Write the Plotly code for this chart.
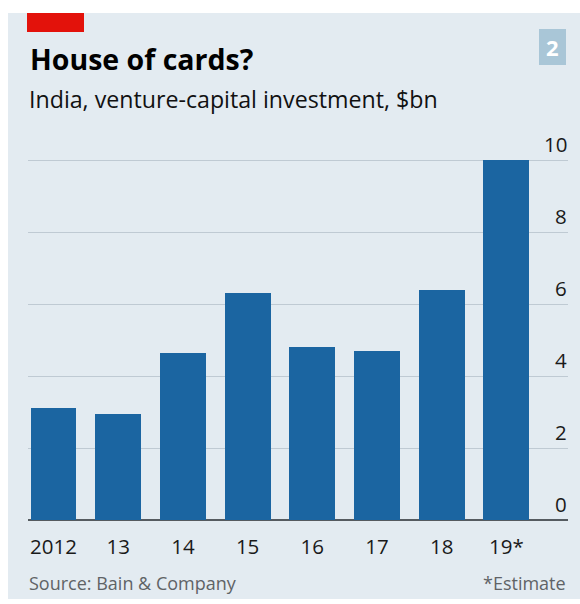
import plotly.graph_objects as go

categories = ["2012", "13", "14", "15", "16", "17", "18", "19*"]
values = [3.1, 2.95, 4.65, 6.3, 4.8, 4.7, 6.4, 10.0]
y_ticks = [0, 2, 4, 6, 8, 10]

W, H = 580, 604
FONT = "Open Sans"
Y_TOP = 10.05

def px_x(x):
    return x / W

def px_y(y):
    return 1 - y / H

x_pos = list(range(len(categories)))

fig = go.Figure()
fig.add_trace(go.Bar(
    x=x_pos, y=values, width=0.71,
    marker=dict(color="#1b65a1", line=dict(width=0)),
    hoverinfo="skip",
))

fig.update_layout(
    width=W, height=H, autosize=False,
    margin=dict(l=0, r=0, t=0, b=0),
    paper_bgcolor="white",
    plot_bgcolor="rgba(0,0,0,0)",
    showlegend=False,
    font=dict(family=FONT, color="#111"),
    xaxis=dict(
        domain=[px_x(28), px_x(568)],
        range=[-0.394, 7.952],
        tickvals=x_pos, ticktext=categories,
        ticks="", showgrid=False, zeroline=False, showline=False,
        tickfont=dict(size=20.5, color="#1a1a1a", family=FONT),
        ticklabelstandoff=12,
        fixedrange=True,
    ),
    yaxis=dict(
        domain=[px_y(520), px_y(520 - 36 * Y_TOP)],
        range=[0, Y_TOP],
        tickvals=y_ticks,
        showticklabels=False,
        showgrid=True, gridcolor="#bfcad3", gridwidth=1,
        zeroline=True, zerolinecolor="#555b60", zerolinewidth=2,
        showline=False, fixedrange=True,
    ),
    bargap=0,
)

shapes = [
    dict(type="rect", xref="paper", yref="paper", layer="below",
         x0=px_x(8), x1=px_x(580), y0=px_y(599), y1=px_y(13),
         fillcolor="#e3ebf1", line=dict(width=0)),
    dict(type="rect", xref="paper", yref="paper",
         x0=px_x(27), x1=px_x(84), y0=px_y(32), y1=px_y(13),
         fillcolor="#e3120b", line=dict(width=0)),
    dict(type="rect", xref="paper", yref="paper",
         x0=px_x(539), x1=px_x(566), y0=px_y(65), y1=px_y(29),
         fillcolor="#a9c6d7", line=dict(width=0)),
]
fig.update_layout(shapes=shapes)

annotations = [
    dict(text="<b>House of cards?</b>", xref="paper", yref="paper",
         x=px_x(28), y=px_y(59), xanchor="left", yanchor="middle",
         showarrow=False, font=dict(size=28.5, color="#000", family=FONT)),
    dict(text="India, venture-capital investment, $bn", xref="paper", yref="paper",
         x=px_x(27), y=px_y(99), xanchor="left", yanchor="middle",
         showarrow=False, font=dict(size=23.2, color="#111", family=FONT)),
    dict(text="<b>2</b>", xref="paper", yref="paper",
         x=px_x(552.5), y=px_y(47), xanchor="center", yanchor="middle",
         showarrow=False, font=dict(size=22, color="white", family=FONT)),
    dict(text="Source: Bain & Company", xref="paper", yref="paper",
         x=px_x(27), y=px_y(583), xanchor="left", yanchor="middle",
         showarrow=False, font=dict(size=18, color="#5f6366", family=FONT)),
    dict(text="*Estimate", xref="paper", yref="paper",
         x=px_x(568), y=px_y(583), xanchor="right", yanchor="middle",
         showarrow=False, font=dict(size=18, color="#5f6366", family=FONT)),
]
for v in y_ticks:
    annotations.append(dict(
        text=str(v), xref="paper", yref="y",
        x=px_x(569), y=v, xanchor="right", yanchor="bottom", yshift=0,
        showarrow=False, font=dict(size=20.5, color="#1a1a1a", family=FONT)))
fig.update_layout(annotations=annotations)

fig.write_html(
    "out.html",
    config={"displayModeBar": False, "staticPlot": True},
    post_script="document.body.style.margin='0';document.body.style.overflow='hidden';",
)
